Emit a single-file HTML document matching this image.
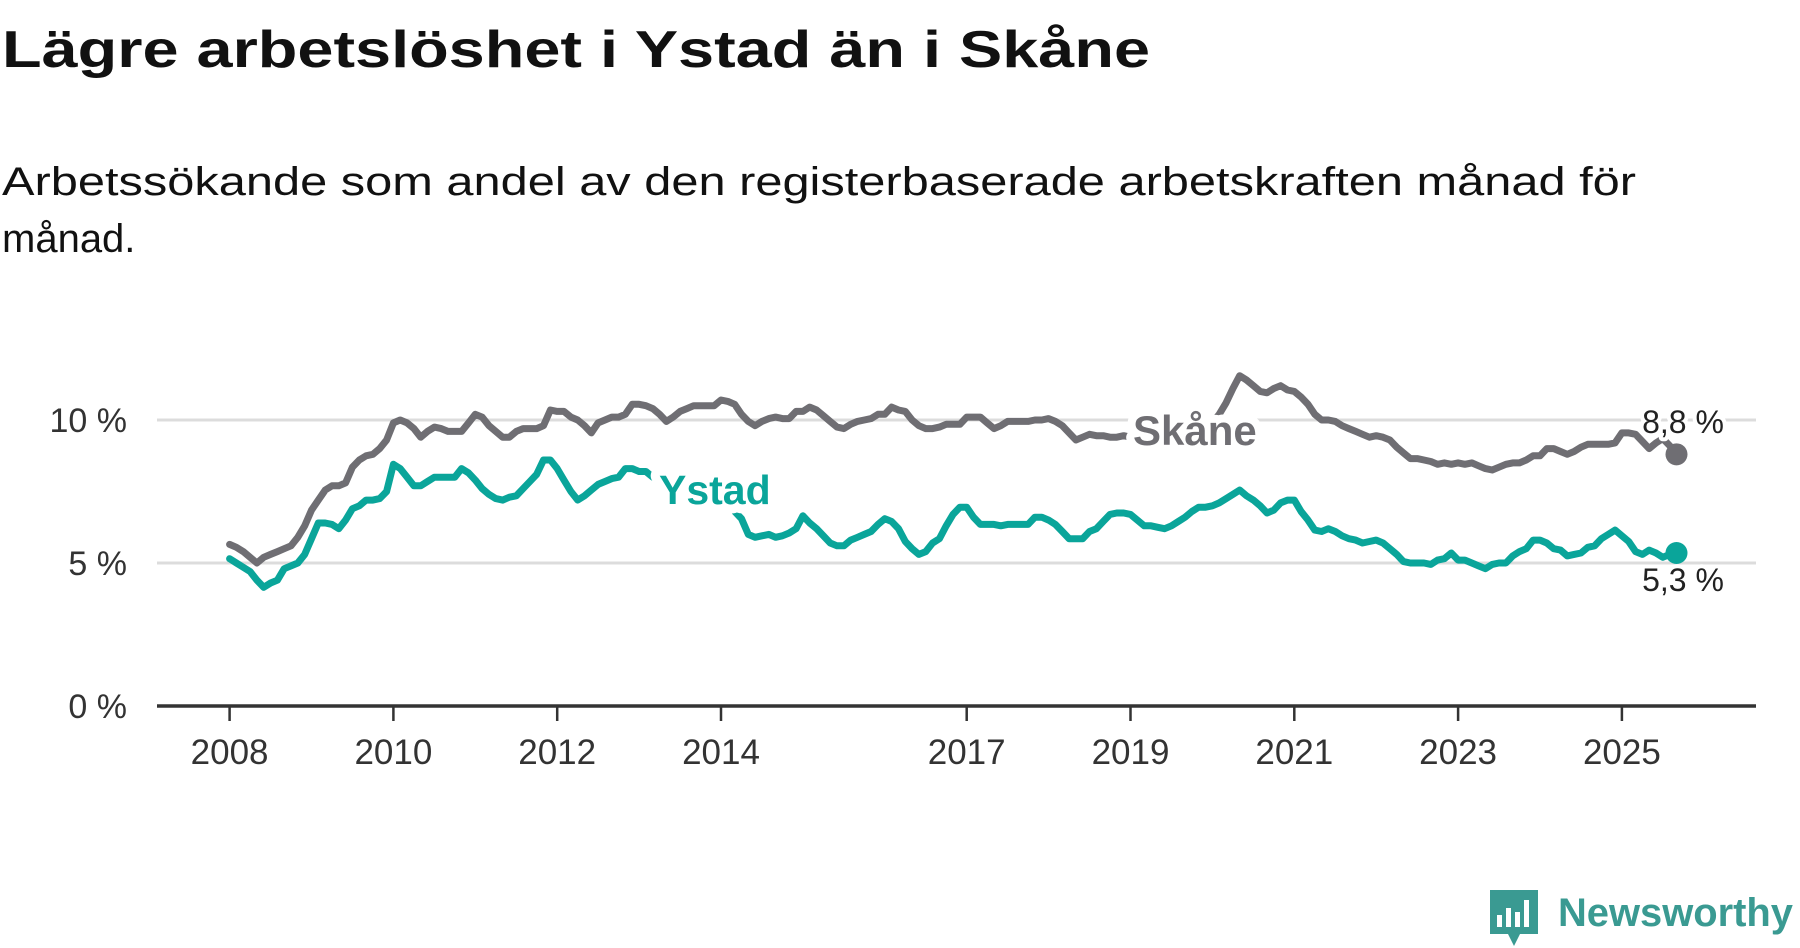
<!DOCTYPE html>
<html><head><meta charset="utf-8"><style>
html,body{margin:0;padding:0;background:#fff;}
svg{display:block;font-family:"Liberation Sans",sans-serif;}
</style></head><body>
<svg id="chart" width="1800" height="948" viewBox="0 0 1800 948">
<text x="2" y="67" font-size="52" font-weight="bold" fill="#111" textLength="1148" lengthAdjust="spacingAndGlyphs">Lägre arbetslöshet i Ystad än i Skåne</text>
<text x="2" y="195" font-size="40" fill="#111" textLength="1634" lengthAdjust="spacingAndGlyphs">Arbetssökande som andel av den registerbaserade arbetskraften månad för</text>
<text x="2" y="252" font-size="40" fill="#111">månad.</text>
<g id="grid"></g>
<g id="series"></g>
<g id="labels"></g>
<g>
<path d="M1490 890 h48 v44 h-18 l-6 12 l-6 -12 h-18 z" fill="#3a9a92"/>
<rect x="1497" y="915" width="5" height="12" fill="#fff"/><rect x="1506" y="908" width="5" height="19" fill="#fff"/><rect x="1515" y="912" width="5" height="15" fill="#fff"/><rect x="1524" y="900" width="5" height="27" fill="#fff"/>
<text x="1558" y="926" font-size="40" font-weight="bold" fill="#3a9a92" textLength="235" lengthAdjust="spacingAndGlyphs">Newsworthy</text>
</g>
</svg>
<script>
const yTicks = [0, 5, 10];
const yTickLabels = ["0 %", "5 %", "10 %"];
const xTicks = [2008, 2010, 2012, 2014, 2017, 2019, 2021, 2023, 2025];
const startYear = 2008;
const skane = [
5.65,5.55,5.4,5.2,5.0,5.2,5.3,5.4,5.5,5.6,5.9,6.3,
6.85,7.2,7.55,7.7,7.7,7.8,8.35,8.6,8.75,8.8,9.0,9.3,
9.9,10.0,9.9,9.7,9.4,9.6,9.75,9.7,9.6,9.6,9.6,9.9,
10.2,10.1,9.8,9.6,9.4,9.4,9.6,9.7,9.7,9.7,9.8,10.35,
10.3,10.3,10.1,10.0,9.8,9.55,9.9,10.0,10.1,10.1,10.2,10.55,
10.55,10.5,10.4,10.2,9.95,10.1,10.3,10.4,10.5,10.5,10.5,10.5,
10.7,10.65,10.55,10.2,9.95,9.8,9.95,10.05,10.1,10.05,10.05,10.3,
10.3,10.45,10.35,10.15,9.95,9.75,9.7,9.85,9.95,10.0,10.05,10.2,
10.2,10.45,10.35,10.3,10.0,9.8,9.7,9.7,9.75,9.85,9.85,9.85,
10.1,10.1,10.1,9.9,9.7,9.8,9.95,9.95,9.95,9.95,10.0,10.0,
10.05,9.95,9.8,9.55,9.3,9.4,9.5,9.45,9.45,9.4,9.4,9.45,
9.4,9.5,9.55,9.6,9.6,9.5,9.45,9.5,9.55,9.6,9.6,9.7,
9.9,10.2,10.6,11.1,11.55,11.4,11.2,11.0,10.95,11.1,11.2,11.05,
11.0,10.8,10.55,10.2,10.0,10.0,9.95,9.8,9.7,9.6,9.5,9.4,
9.45,9.4,9.3,9.05,8.85,8.65,8.65,8.6,8.55,8.45,8.5,8.45,
8.5,8.45,8.5,8.4,8.3,8.25,8.35,8.45,8.5,8.5,8.6,8.75,
8.75,9.0,9.0,8.9,8.8,8.9,9.05,9.15,9.15,9.15,9.15,9.2,
9.55,9.55,9.5,9.25,9.0,9.2,9.35,9.1,8.8];
const ystad = [
5.15,5.0,4.85,4.7,4.4,4.15,4.3,4.4,4.8,4.9,5.0,5.3,
5.85,6.4,6.4,6.35,6.2,6.5,6.9,7.0,7.2,7.2,7.25,7.5,
8.45,8.3,8.0,7.7,7.7,7.85,8.0,8.0,8.0,8.0,8.3,8.15,
7.9,7.6,7.4,7.25,7.2,7.3,7.35,7.6,7.85,8.1,8.6,8.6,
8.3,7.9,7.5,7.2,7.35,7.55,7.75,7.85,7.95,8.0,8.3,8.3,
8.2,8.2,8.0,7.9,8.0,8.0,7.9,7.8,7.8,7.7,7.6,7.5,
7.4,7.2,6.8,6.55,6.0,5.9,5.95,6.0,5.9,5.95,6.05,6.2,
6.65,6.4,6.2,5.95,5.7,5.6,5.6,5.8,5.9,6.0,6.1,6.35,
6.55,6.45,6.2,5.75,5.5,5.3,5.4,5.7,5.85,6.3,6.7,6.95,
6.95,6.6,6.35,6.35,6.35,6.3,6.35,6.35,6.35,6.35,6.6,6.6,
6.5,6.35,6.1,5.85,5.85,5.85,6.1,6.2,6.45,6.7,6.75,6.75,
6.7,6.5,6.3,6.3,6.25,6.2,6.3,6.45,6.6,6.8,6.95,6.95,
7.0,7.1,7.25,7.4,7.55,7.35,7.2,7.0,6.75,6.85,7.1,7.2,
7.2,6.8,6.5,6.15,6.1,6.2,6.1,5.95,5.85,5.8,5.7,5.75,
5.8,5.7,5.5,5.3,5.05,5.0,5.0,5.0,4.95,5.1,5.15,5.35,
5.1,5.1,5.0,4.9,4.8,4.95,5.0,5.0,5.25,5.4,5.5,5.8,
5.8,5.7,5.5,5.45,5.25,5.3,5.35,5.55,5.6,5.85,6.0,6.15,
5.95,5.75,5.4,5.3,5.45,5.35,5.2,5.3,5.35];
const endLabels = ["8,8 %", "5,3 %"];

const NS = "http://www.w3.org/2000/svg";
const X0 = 229.6, PX_PER_YEAR = 81.9, Y0 = 706, PX_PER_UNIT = 28.6;
const xScale = t => X0 + (t - startYear) * PX_PER_YEAR;
const xIdx = i => xScale(startYear + i / 12);
const yScale = v => Y0 - v * PX_PER_UNIT;
function mk(tag, attrs, parent, txt) {
  const e = document.createElementNS(NS, tag);
  for (const k in attrs) e.setAttribute(k, attrs[k]);
  if (txt !== undefined) e.textContent = txt;
  parent.appendChild(e);
  return e;
}
const grid = document.getElementById('grid');
const series = document.getElementById('series');
const labels = document.getElementById('labels');

yTicks.forEach((v, i) => {
  if (v !== 0) {
    const g = mk('line', {x1: 157, x2: 1756, y1: yScale(v), y2: yScale(v), stroke: '#dcdcdc', 'stroke-width': 3}, grid);
    
    
  }
  const t = mk('text', {x: 127, y: yScale(v) + 12, 'text-anchor': 'end', 'font-size': 34, fill: '#333'}, grid, yTickLabels[i]);
  
  
});
const ax = mk('line', {x1: 157, x2: 1756, y1: Y0, y2: Y0, stroke: '#333', 'stroke-width': 3.5}, grid);


xTicks.forEach(y => {
  const tk = mk('line', {x1: xScale(y), x2: xScale(y), y1: Y0, y2: Y0 + 15, stroke: '#333', 'stroke-width': 2.5}, grid);
  
  
  const t = mk('text', {x: xScale(y), y: 764, 'text-anchor': 'middle', 'font-size': 35, fill: '#333'}, grid, String(y));
  
  
});

function drawSeries(arr, color, name) {
  const d = arr.map((v, i) => (i ? 'L' : 'M') + xIdx(i).toFixed(1) + ' ' + yScale(v).toFixed(1)).join(' ');
  const p = mk('path', {d: d, fill: 'none', stroke: color, 'stroke-width': 7, 'stroke-linejoin': 'round', 'stroke-linecap': 'round'}, series);
  
  
  const last = arr.length - 1;
  const c = mk('circle', {cx: xIdx(last), cy: yScale(arr[last]), r: 11, fill: color}, series);
  
  
}
drawSeries(skane, '#6f6e73', 'skane');
drawSeries(ystad, '#0aa59a', 'ystad');

function halo(x, y, txt, color, size, weight, anchor, name, hw) {
  const b = mk('text', {x: x, y: y, 'text-anchor': anchor, 'font-size': size, 'font-weight': weight, fill: '#fff', stroke: '#fff', 'stroke-width': hw, 'stroke-linejoin': 'round'}, labels, txt);
  
  
  const t = mk('text', {x: x, y: y, 'text-anchor': anchor, 'font-size': size, 'font-weight': weight, fill: color}, labels, txt);
  
  
}
halo(1133, 445, 'Skåne', '#6f6e73', 42, 'bold', 'start', 'skane-series-label', 16);
halo(659, 504, 'Ystad', '#0aa59a', 41, 'bold', 'start', 'ystad-series-label', 18);
halo(1683, 433, endLabels[0], '#222', 32, 'normal', 'middle', 'skane-end-value', 8);
halo(1683, 591, endLabels[1], '#222', 32, 'normal', 'middle', 'ystad-end-value', 8);
</script>
</body></html>
